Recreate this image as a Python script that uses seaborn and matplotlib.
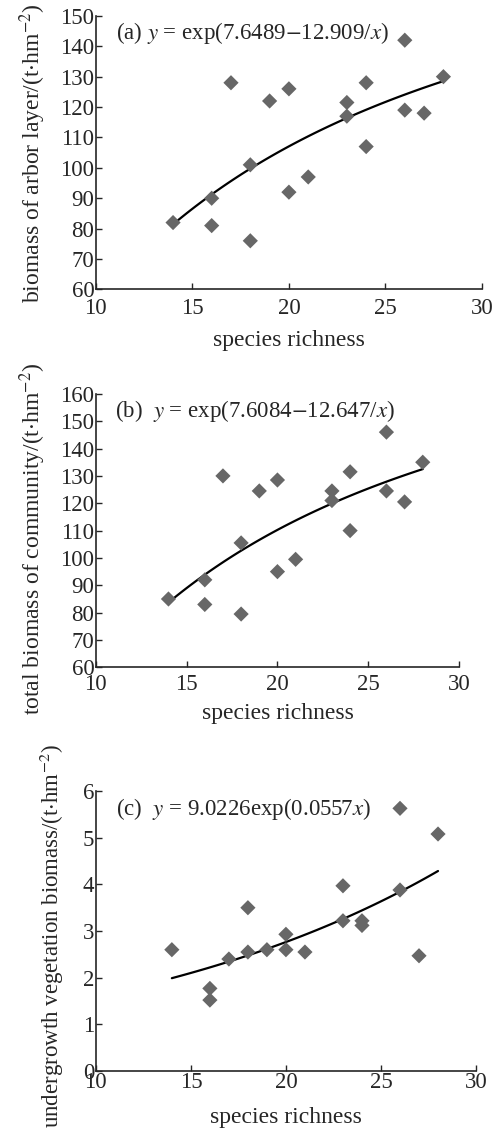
import numpy as np
import pandas as pd
import matplotlib
matplotlib.use("Agg")
import matplotlib.pyplot as plt
import seaborn as sns

# species richness of each plot
richness = [14, 16, 16, 17, 18, 18, 19, 20, 20, 21, 23, 23, 24, 24, 26, 26, 27, 28]

# (a) arbor layer biomass
arbor = [82, 90, 81, 128, 101, 76, 122, 126, 92, 97, 121.5, 117, 128, 107, 142, 119, 118, 130]
# (b) total community biomass
community = [85, 92, 83, 130, 105.5, 79.5, 124.5, 128.5, 95, 99.5, 124.5, 121, 131.5, 110, 146, 124.5, 120.5, 135]
# (c) undergrowth biomass
undergrowth = [2.6, 1.77, 1.52, 2.4, 3.5, 2.55, 2.6, 2.93, 2.6, 2.55, 3.97, 3.22, 3.22, 3.12, 5.63, 3.88, 2.47, 5.08]

eq_a = r"(a) $y$ = exp(7.6489$-$12.909/$x$)"
eq_b = r"(b)  $y$ = exp(7.6084$-$12.647/$x$)"
eq_c = r"(c)  $y$ = 9.0226exp(0.0557$x$)"

ylab_a = r"biomass of arbor layer/(t$\cdot$hm$^{-2}$)"
ylab_b = r"total biomass of community/(t$\cdot$hm$^{-2}$)"
ylab_c = r"undergrowth vegetation biomass/(t$\cdot$hm$^{-2}$)"

sns.set_theme(style="ticks")
plt.rcParams["font.family"] = ["Liberation Serif", "DejaVu Serif"]
plt.rcParams["mathtext.fontset"] = "stix"

df = pd.DataFrame({"x": richness, "a": arbor, "b": community, "c": undergrowth})

fig = plt.figure(figsize=(4.99, 11.35), dpi=100)
ax_a = fig.add_axes([0.192, 0.745, 0.774, 0.241])
ax_b = fig.add_axes([0.192, 0.412, 0.728, 0.241])
ax_c = fig.add_axes([0.192, 0.0564, 0.762, 0.2466])

xs = np.linspace(14, 28, 60)


def draw(ax, col, kind, ylim, ystep, eq, ylab, labsize, labpad, ylab_y, xpad, xlabpad):
    sns.scatterplot(data=df, x="x", y=col, ax=ax, marker="D", s=60,
                    color="#676767", edgecolor="none", zorder=3)
    x = np.array(richness, dtype=float)
    y = np.log(np.array(df[col], dtype=float))
    if kind == "inv":
        k, c = np.polyfit(1 / x, y, 1)
        fit = np.exp(c + k / xs)
    else:
        k, c = np.polyfit(x, y, 1)
        fit = np.exp(c + k * xs)
    ax.plot(xs, fit, color="black", lw=1.6, zorder=2)
    ax.set_xlim(10, 30)
    ax.set_ylim(*ylim)
    ax.set_xticks(range(10, 31, 5))
    ax.set_yticks(np.arange(ylim[0], ylim[1] + ystep / 2, ystep))
    ax.tick_params(direction="in", length=4, width=1, labelsize=16.5, pad=1)
    ax.tick_params(axis="x", pad=xpad)
    for s in ["top", "right"]:
        ax.spines[s].set_visible(False)
    for s in ["left", "bottom"]:
        ax.spines[s].set_linewidth(1.2)
    ax.set_xlabel("species richness", fontsize=17, labelpad=xlabpad)
    ax.set_ylabel(ylab, fontsize=labsize, labelpad=labpad)
    ax.yaxis.label.set_y(ylab_y)
    ax.text(0.052, 0.937, eq, transform=ax.transAxes, fontsize=16.5, va="center", ha="left")


draw(ax_a, "a", "inv", (60, 150), 10, eq_a, ylab_a, 17, 9, 0.5, 6, 8)
draw(ax_b, "b", "inv", (60, 160), 10, eq_b, ylab_b, 17, 9, 0.47, 4.5, 6)
draw(ax_c, "c", "exp", (0, 6), 1, eq_c, ylab_c, 16.5, 12.5, 0.48, 1, 10)

fig.savefig("out.png", dpi=100)
